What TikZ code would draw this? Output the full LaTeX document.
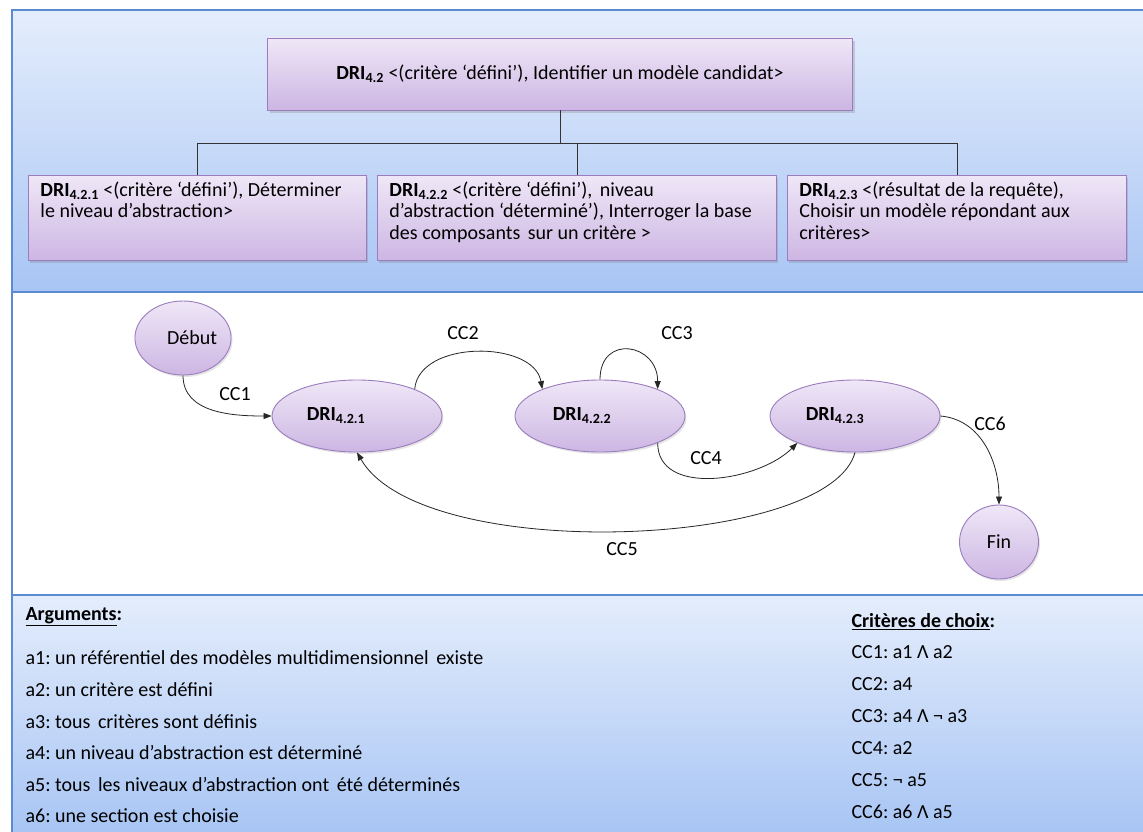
\documentclass[tikz,border=0pt]{standalone}
\usepackage{fontspec}
\setmainfont{Carlito}
\usepackage{xcolor}
\definecolor{panelhi}{HTML}{E4EDFC}
\definecolor{panello}{HTML}{A8C5F4}
\definecolor{panelrule}{HTML}{5B8BD0}
\definecolor{lilachi}{HTML}{EFE7F7}
\definecolor{lilaclo}{HTML}{CDB6E3}
\definecolor{lilacrule}{HTML}{9B7DBF}
\usepackage{tikz}
\usetikzlibrary{arrows.meta,positioning,shapes.geometric,shadows,calc}

\frenchspacing
\newcommand{\dri}[1]{\textbf{DRI\textsubscript{#1}}}
\newcommand{\boxtxt}[2]{\parbox[c][85pt][t]{#1}{\raggedright\vspace*{6pt}#2}}
\newcommand{\gap}{\hspace{3pt}}

\tikzset{
  drbox/.style={draw=lilacrule, line width=0.9pt, top color=lilachi, bottom color=lilaclo,
    inner xsep=12pt, inner ysep=0pt,
    drop shadow={opacity=0.3, shadow xshift=2pt, shadow yshift=-3pt}},
  drstate/.style={ellipse, draw=lilacrule, line width=0.9pt, top color=lilachi, bottom color=lilaclo,
    inner sep=0pt, minimum width=170pt, minimum height=72pt,
    drop shadow={opacity=0.2, shadow xshift=1.5pt, shadow yshift=-2pt}},
  endstate/.style={drstate, minimum width=79pt, minimum height=74pt},
  flow/.style={->, line width=0.8pt, black!85},
  tree/.style={line width=0.9pt, black!80},
  panel/.style={panelrule, line width=1.6pt},
}

\begin{document}
\begin{tikzpicture}[x=1pt, y=1pt, >={Triangle[length=8pt,width=6pt]},
    font=\fontsize{20}{21.5}\selectfont]
    \useasboundingbox (0,0) rectangle (1143,-832);

    % Panels
    \shade[top color=panelhi, bottom color=panello] (12,-10) rectangle (1143,-292);
    \fill[white] (12,-292) rectangle (1143,-595);
    \shade[top color=panelhi, bottom color=panello] (12,-595) rectangle (1143,-832);
    \draw[panel] (1143,-10) -- (12,-10) -- (12,-832);
    \draw[panel] (12,-292) -- (1143,-292);
    \draw[panel] (12,-595) -- (1143,-595);

    % Decomposition tree
    \node[drbox, minimum width=585pt, minimum height=72pt] (top) at (560,-74)
        {\dri{4.2} <(critère ‘défini’), Identifier un modèle candidat>};
    \node[drbox, anchor=north west] (c1) at (28,-175)
        {\boxtxt{314pt}{\dri{4.2.1} <(critère ‘défini’), Déterminer\\le niveau d’abstraction>}};
    \node[drbox, anchor=north west] (c2) at (377,-175)
        {\boxtxt{375pt}{\dri{4.2.2} <(critère ‘défini’),\gap{} niveau\\d’abstraction ‘déterminé’), Interroger la base\\des composants\gap{} sur un critère >}};
    \node[drbox, anchor=north west] (c3) at (787,-175)
        {\boxtxt{315pt}{\dri{4.2.3} <(résultat de la requête),\\Choisir un modèle répondant aux\\critères>}};

    \draw[tree] (top.south) -- ++(0,-33) -| (c1.north);
    \draw[tree] (top.south) -- ++(0,-33) -| (c2.north);
    \draw[tree] (top.south) -- ++(0,-33) -| (c3.north);

    % Process map
    \node[endstate] (debut) at (183,-338) {\hspace*{18pt}Début};
    \node[drstate] (d1) at (357,-416) {\dri{4.2.1}\hspace*{42pt}};
    \node[drstate] (d2) at (600,-416) {\dri{4.2.2}\hspace*{36pt}};
    \node[drstate] (d3) at (855,-416) {\dri{4.2.3}\hspace*{40pt}};
    \node[endstate] (fin) at (999,-542) {Fin};

    \draw[flow] (debut.south) to[out=-90, in=180] (d1.west);
    \draw[flow] (d1.25) to[out=85, in=100] (d2.155);
    \draw[flow] (d2.north) to[out=90, in=90, distance=46pt] (d2.25);
    \draw[flow] (d2.-25) to[out=-90, in=-135] (d3.-155);
    \draw[flow] (d3.south) to[out=-105, in=-60, out distance=100pt, in distance=130pt] (d1.south);
    \draw[flow] (d3.east) to[out=-5, in=90] (fin.north);

    \node (cc1) at (235,-394) {CC1};
    \node (cc2) at (463,-333) {CC2};
    \node (cc3) at (677,-333) {CC3};
    \node (cc4) at (706,-458) {CC4};
    \node (cc5) at (622,-549) {CC5};
    \node (cc6) at (990,-424) {CC6};

    % Arguments and choice criteria
    \node[anchor=west] (arghead) at (22,-617) {\textbf{\underline{Arguments}:}};
    \foreach \txt [count=\i] in {a1: un référentiel des modèles multidimensionnel\gap{} existe,
        a2: un critère est défini, a3: tous\gap{} critères sont définis,
        a4: un niveau d’abstraction est déterminé,
        a5: tous\gap{} les niveaux d’abstraction ont\gap{} été déterminés,
        a6: une section est choisie}
      \node[anchor=west] (arg\i) at (22,{-658-31.6*(\i-1)}) {\txt};

    \node[anchor=west] (cchead) at (848,-622) {\textbf{\underline{Critères de choix}:}};
    \foreach \txt [count=\i] in {CC1: a1 Λ a2, CC2: a4, CC3: a4 Λ ¬ a3,
        CC4: a2, CC5: ¬ a5, CC6: a6 Λ a5}
      \node[anchor=west] (crit\i) at (848,{-652-32*(\i-1)}) {\txt};
\end{tikzpicture}
\end{document}
